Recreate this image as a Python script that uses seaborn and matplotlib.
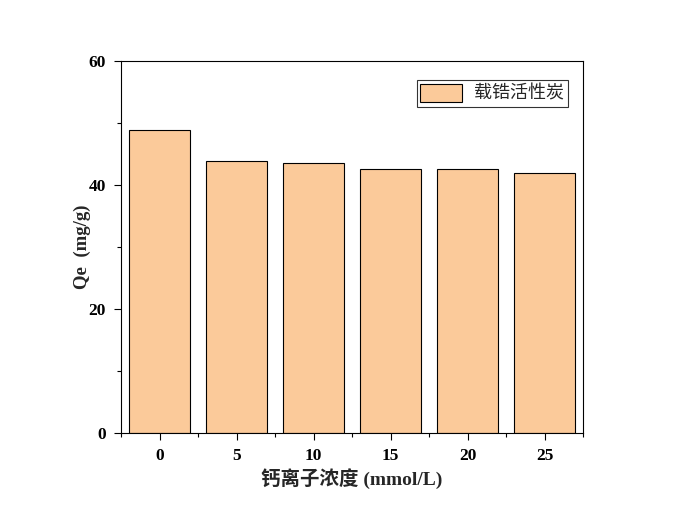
import matplotlib
matplotlib.use("Agg")
import matplotlib.pyplot as plt
import seaborn as sns
import pandas as pd
from matplotlib.ticker import MultipleLocator

conc = [0, 5, 10, 15, 20, 25]
qe = [48.9, 43.9, 43.5, 42.6, 42.6, 41.9]
series_name = "载锆活性炭"
xlabel = "钙离子浓度 (mmol/L)"
ylabel = "Qe  (mg/g)"

sns.set_theme(style="ticks")
plt.rcParams['font.family'] = ['Liberation Serif', 'Noto Sans CJK SC', 'DejaVu Sans']

df = pd.DataFrame({"conc": conc, "qe": qe, "series": series_name})

fig = plt.figure(figsize=(6.8, 5.21), dpi=100)
ax = fig.add_axes([121/680, 88/521, 462/680, 372/521])

sns.barplot(data=df, x="conc", y="qe", hue="series", native_scale=True,
            palette=["#FBCA9A"], edgecolor="black", linewidth=0.8,
            width=0.8, saturation=1, ax=ax)

ax.set_xlim(-2.5, 27.5)
ax.set_ylim(0, 60)
ax.xaxis.set_major_locator(MultipleLocator(5))
ax.xaxis.set_minor_locator(MultipleLocator(2.5))
ax.yaxis.set_major_locator(MultipleLocator(20))
ax.yaxis.set_minor_locator(MultipleLocator(10))
ax.tick_params(which="major", direction="out", length=5, width=0.8, colors="black", pad=6)
ax.tick_params(which="minor", direction="out", length=3, width=0.8, colors="black")
for lab in ax.get_xticklabels() + ax.get_yticklabels():
    lab.set_fontweight("bold")
    lab.set_fontsize(12.5)
for s in ax.spines.values():
    s.set_color("black")
    s.set_linewidth(0.8)
    s.set_visible(True)

ax.set_xlabel(xlabel, fontsize=14, fontweight="bold",
              family=['Liberation Serif', 'Noto Sans CJK SC'], labelpad=3)
ax.set_ylabel(ylabel, fontsize=13.5, fontweight="bold",
              family=['Liberation Serif', 'Noto Sans CJK SC'], labelpad=-2)

leg = ax.legend(loc="upper right", bbox_to_anchor=(0.9675, 0.949), frameon=True,
                fancybox=False, edgecolor="black", borderaxespad=0,
                handlelength=2.3, handleheight=1.2, borderpad=0.2, handletextpad=0.7,
                prop={'family': ['Noto Sans CJK SC'], 'size': 13})
leg.get_frame().set_linewidth(0.8)

fig.savefig("out.png", dpi=100)
